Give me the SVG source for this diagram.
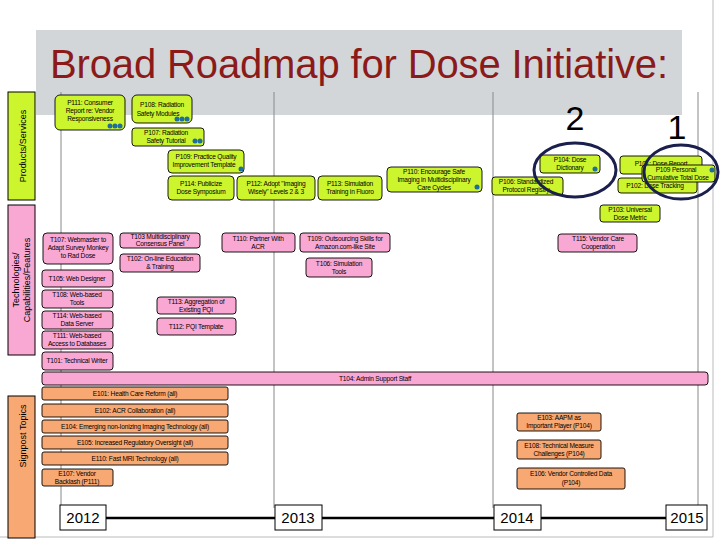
<svg xmlns="http://www.w3.org/2000/svg" width="720" height="540" viewBox="0 0 720 540">
<style>
text{font-family:"Liberation Sans",Arial,sans-serif;fill:#000}
.n text{font-size:6.6px;text-anchor:middle;letter-spacing:-0.2px}
.g rect{fill:#ccf52e;stroke:#000;stroke-width:0.9}
.p rect{fill:#f9a8d4;stroke:#000;stroke-width:0.9}
.o rect{fill:#f8a872;stroke:#000;stroke-width:0.9}
.dot{fill:#1f6e9c}
.grid{stroke:#888;stroke-width:1}
.yr rect{fill:#fff;stroke:#000;stroke-width:1}
.yr text{font-size:15px;text-anchor:middle}
.side text{font-size:9px;text-anchor:middle}
</style>
<rect width="720" height="540" fill="#fff"/>
<line x1="713" y1="0" x2="713" y2="537" stroke="#bbb"/>
<line x1="0" y1="537" x2="713" y2="537" stroke="#bbb"/>
<g id="title"><rect x="36" y="30" width="646" height="85" fill="#d3d6d9"/>
<text x="359" y="78" font-size="40" text-anchor="middle" textLength="618" style="fill:#8b1a1a">Broad Roadmap for Dose Initiative:</text></g>
<g id="gridlines" class="grid">
<line x1="61" y1="92" x2="61" y2="508"/><line x1="274" y1="92" x2="274" y2="508"/><line x1="493" y1="92" x2="493" y2="508"/><line x1="698" y1="92" x2="698" y2="508"/></g>
<g class="side">
<g id="side-ps"><rect x="8" y="92" width="27" height="108" fill="#ccf52e" stroke="#000"/><text transform="translate(26,146) rotate(-90)">Products/Services</text></g>
<g id="side-tc"><rect x="8" y="205" width="27" height="150" fill="#f9a8d4" stroke="#000"/><text transform="translate(19,280) rotate(-90)">Technologies/</text><text transform="translate(30,280) rotate(-90)">Capabilities/Features</text></g>
<g id="side-st"><rect x="8" y="396" width="27" height="142" fill="#f8a872" stroke="#000"/><text transform="translate(26,436) rotate(-90)">Signpost Topics</text></g>
</g>
<g id="connectors"><line x1="106" y1="518" x2="275" y2="518" stroke="#000" stroke-width="2.5"/><line x1="322" y1="518" x2="494" y2="518" stroke="#000" stroke-width="2.5"/><line x1="541" y1="518" x2="666" y2="518" stroke="#000" stroke-width="2.5"/></g>
<g class="n g">
<g id="P111"><rect x="55" y="95" width="70" height="35" rx="5"/><text x="90" y="105">P111: Consumer</text><text x="90" y="113">Report re: Vendor</text><text x="90" y="121">Responsiveness</text><circle class="dot" cx="110" cy="126" r="2.5"/><circle class="dot" cx="115" cy="126" r="2.5"/><circle class="dot" cx="120" cy="126" r="2.5"/></g>
<g id="P108"><rect x="132" y="95" width="60" height="28" rx="5"/><text x="162" y="107">P108: Radiation</text><text x="158" y="116">Safety Modules</text><circle class="dot" cx="177" cy="119" r="2.5"/><circle class="dot" cx="182" cy="119" r="2.5"/><circle class="dot" cx="187" cy="119" r="2.5"/></g>
<g id="P107"><rect x="132" y="128" width="72" height="18" rx="3"/><text x="166" y="135">P107: Radiation</text><text x="166" y="143">Safety Tutorial</text><circle class="dot" cx="195" cy="141" r="2.5"/><circle class="dot" cx="200" cy="141" r="2.5"/></g>
<g id="P109a"><rect x="168" y="150" width="76" height="23" rx="4"/><text x="206" y="159">P109: Practice Quality</text><text x="204" y="167">Improvement Template</text><circle class="dot" cx="241" cy="169" r="2.5"/></g>
<g id="P114"><rect x="168" y="176" width="66" height="24" rx="4"/><text x="201" y="186">P114: Publicize</text><text x="201" y="194">Dose Symposium</text></g>
<g id="P112"><rect x="237" y="176" width="78" height="24" rx="4"/><text x="276" y="186">P112: Adopt "Imaging</text><text x="276" y="194">Wisely" Levels 2 &amp; 3</text></g>
<g id="P113"><rect x="318" y="176" width="64" height="24" rx="4"/><text x="350" y="186">P113: Simulation</text><text x="350" y="194">Training in Fluoro</text></g>
<g id="P110"><rect x="387" y="167" width="95" height="25" rx="4"/><text x="434" y="174">P110: Encourage Safe</text><text x="434" y="182">Imaging in Multidisciplinary</text><text x="434" y="190">Care Cycles</text><circle class="dot" cx="477" cy="187" r="2.5"/></g>
<g id="P106"><rect x="492" y="177" width="71" height="18" rx="3"/><text x="526" y="184">P106: Standardized</text><text x="526" y="192">Protocol Registry</text></g>
<g id="P104"><rect x="540" y="155" width="60" height="18" rx="3"/><text x="570" y="162">P104: Dose</text><text x="570" y="170">Dictionary</text><circle class="dot" cx="595" cy="169" r="2.5"/></g>
<g id="P101"><rect x="620" y="156" width="82" height="18" rx="3"/><text x="661" y="166">P101: Dose Report</text></g>
<g id="P102"><rect x="618" y="178" width="79" height="15" rx="3"/><text x="655" y="188">P102: Dose Tracking</text></g>
<g id="P109"><rect x="642" y="165" width="73" height="17" rx="3"/><text x="676" y="172">P109 Personal</text><text x="678" y="180">Cumulative Total Dose</text><circle class="dot" cx="712" cy="170" r="2.5"/></g>
<g id="P103"><rect x="600" y="205" width="60" height="17" rx="3"/><text x="630" y="212">P103: Universal</text><text x="630" y="220">Dose Metric</text></g>
</g>
<g id="rings" fill="none" stroke="#1a1f4d" stroke-width="3"><ellipse cx="575" cy="170" rx="41" ry="27"/><ellipse cx="681" cy="172" rx="37" ry="27"/></g>
<text x="575" y="130" font-size="34" text-anchor="middle">2</text><text x="677" y="139" font-size="34" text-anchor="middle">1</text>
<g class="n p">
<g id="T107"><rect x="43" y="233" width="70" height="31" rx="4"/><text x="78" y="242">T107: Webmaster to</text><text x="78" y="250">Adapt Survey Monkey</text><text x="78" y="258">to Rad Dose</text></g>
<g id="T103"><rect x="120" y="233" width="80" height="15" rx="3"/><text x="160" y="239">T103 Multidisciplinary</text><text x="160" y="246">Consensus Panel</text></g>
<g id="T102"><rect x="120" y="254" width="80" height="18" rx="3"/><text x="160" y="261">T102: On-line Education</text><text x="160" y="269">&amp; Training</text></g>
<g id="T110"><rect x="222" y="233" width="73" height="19" rx="3"/><text x="258" y="241">T110: Partner With</text><text x="258" y="249">ACR</text></g>
<g id="T109"><rect x="300" y="233" width="90" height="19" rx="3"/><text x="345" y="241">T109: Outsourcing Skills for</text><text x="345" y="249">Amazon.com-like Site</text></g>
<g id="T106"><rect x="306" y="258" width="66" height="19" rx="3"/><text x="339" y="266">T106: Simulation</text><text x="339" y="274">Tools</text></g>
<g id="T115"><rect x="558" y="234" width="79" height="18" rx="3"/><text x="598" y="241">T115: Vendor Care</text><text x="598" y="249">Cooperation</text></g>
<g id="T105"><rect x="42" y="270" width="71" height="17" rx="3"/><text x="77" y="281">T105: Web Designer</text></g>
<g id="T108"><rect x="42" y="290" width="71" height="18" rx="3"/><text x="77" y="297">T108: Web-based</text><text x="77" y="305">Tools</text></g>
<g id="T114"><rect x="42" y="311" width="71" height="18" rx="3"/><text x="77" y="318">T114: Web-based</text><text x="77" y="326">Data Server</text></g>
<g id="T111"><rect x="42" y="331" width="71" height="18" rx="3"/><text x="77" y="338">T111: Web-based</text><text x="77" y="346">Access to Databases</text></g>
<g id="T101"><rect x="42" y="352" width="71" height="18" rx="3"/><text x="77" y="363">T101: Technical Writer</text></g>
<g id="T113"><rect x="157" y="297" width="79" height="17" rx="3"/><text x="196" y="304">T113: Aggregation of</text><text x="196" y="312">Existing PQI</text></g>
<g id="T112"><rect x="157" y="318" width="79" height="17" rx="3"/><text x="196" y="329">T112: PQI Template</text></g>
<g id="T104"><rect x="42" y="372" width="666" height="13" rx="3"/><text x="375" y="381">T104: Admin Support Staff</text></g>
</g>
<g class="n o">
<g id="E101"><rect x="42" y="387" width="186" height="13" rx="2"/><text x="135" y="396">E101: Health Care Reform (all)</text></g>
<g id="E102"><rect x="42" y="404" width="186" height="13" rx="2"/><text x="135" y="413">E102: ACR Collaboration (all)</text></g>
<g id="E104"><rect x="42" y="420" width="186" height="13" rx="2"/><text x="135" y="429">E104: Emerging non-Ionizing Imaging Technology (all)</text></g>
<g id="E105"><rect x="42" y="436" width="186" height="13" rx="2"/><text x="135" y="445">E105: Increased Regulatory Oversight (all)</text></g>
<g id="E110"><rect x="42" y="452" width="186" height="13" rx="2"/><text x="135" y="461">E110: Fast MRI Technology (all)</text></g>
<g id="E107"><rect x="42" y="469" width="71" height="17" rx="2"/><text x="77" y="476">E107: Vendor</text><text x="77" y="484">Backlash (P111)</text></g>
<g id="E103"><rect x="517" y="413" width="84" height="18" rx="2"/><text x="559" y="420">E103: AAPM as</text><text x="559" y="428">Important Player (P104)</text></g>
<g id="E108"><rect x="517" y="440" width="84" height="19" rx="2"/><text x="559" y="448">E108: Technical Measure</text><text x="559" y="456">Challenges (P104)</text></g>
<g id="E106"><rect x="517" y="468" width="108" height="21" rx="2"/><text x="571" y="476">E106: Vendor Controlled Data</text><text x="571" y="485">(P104)</text></g>
</g>
<g class="yr">
<g id="y2012"><rect x="60" y="505" width="46" height="25"/><text x="83" y="523">2012</text></g>
<g id="y2013"><rect x="275" y="505" width="47" height="25"/><text x="298" y="523">2013</text></g>
<g id="y2014"><rect x="494" y="505" width="47" height="25"/><text x="517" y="523">2014</text></g>
<g id="y2015"><rect x="666" y="505" width="41" height="25"/><text x="687" y="523">2015</text></g>
</g>
</svg>
